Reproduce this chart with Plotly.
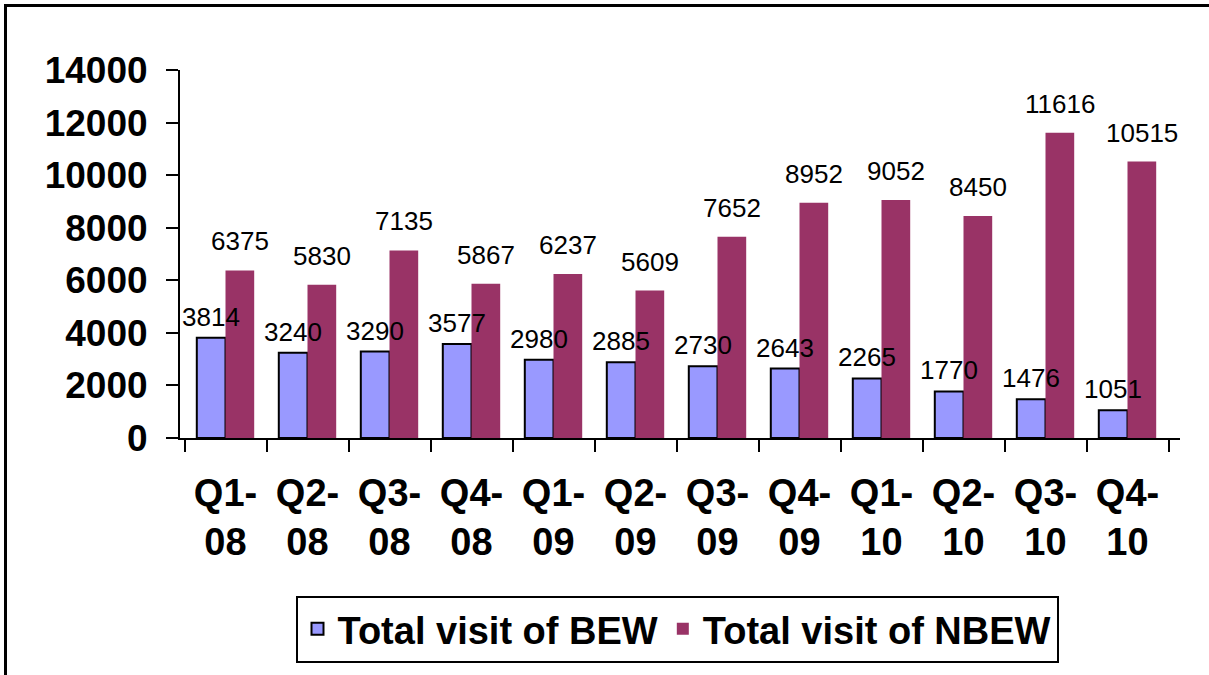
import plotly.graph_objects as go

quarters = ["Q1-<br>08", "Q2-<br>08", "Q3-<br>08", "Q4-<br>08",
            "Q1-<br>09", "Q2-<br>09", "Q3-<br>09", "Q4-<br>09",
            "Q1-<br>10", "Q2-<br>10", "Q3-<br>10", "Q4-<br>10"]
bew = [3814, 3240, 3290, 3577, 2980, 2885, 2730, 2643, 2265, 1770, 1476, 1051]
nbew = [6375, 5830, 7135, 5867, 6237, 5609, 7652, 8952, 9052, 8450, 11616, 10515]

fig = go.Figure()
fig.add_trace(go.Bar(x=quarters, y=bew, name="Total visit of BEW",
                     marker=dict(color="#9999FF", line=dict(color="black", width=2))))
fig.add_trace(go.Bar(x=quarters, y=nbew, name="Total visit of NBEW",
                     marker=dict(color="#993366", line=dict(width=0))))

# value labels above each bar
for q, b, n in zip(quarters, bew, nbew):
    fig.add_annotation(x=q, y=b, text=str(b), showarrow=False, yanchor="bottom",
                       xshift=-14.5, yshift=4, font=dict(size=26, color="black"))
    fig.add_annotation(x=q, y=n, text=str(n), showarrow=False, yanchor="bottom",
                       xshift=14.5, yshift=12, font=dict(size=26, color="black"))

# outer chart frame (left and top edges visible, rest runs off the page)
fig.add_shape(type="rect", xref="paper", yref="paper",
              x0=-0.1745, x1=1.2, y0=-0.8, y1=1.1753,
              line=dict(color="black", width=3), layer="above")

fig.update_layout(
    width=1209, height=675,
    margin=dict(l=180, r=29, t=70, b=237, autoexpand=False),
    plot_bgcolor="white", paper_bgcolor="white",
    font=dict(family="Arial, Liberation Sans, sans-serif", color="black"),
    barmode="group", bargap=0.3, bargroupgap=0,
    showlegend=True,
    legend=dict(orientation="h", x=0.497, xanchor="center", y=-0.428, yanchor="top",
                bordercolor="black", borderwidth=2,
                font=dict(size=38, family="Arial, Liberation Sans, sans-serif", weight="bold")),
)
fig.update_xaxes(showline=True, linecolor="black", linewidth=2, automargin=False,
                 ticks="outside", ticklen=12, tickwidth=2, tickcolor="black",
                 tickson="boundaries", ticklabelstandoff=20,
                 tickfont=dict(size=38, weight="bold"), tickangle=0)
fig.update_yaxes(range=[0, 14000], dtick=2000, tickformat="d", showgrid=False, zeroline=False,
                 showline=True, linecolor="black", linewidth=2, automargin=False,
                 ticks="outside", ticklen=12, tickwidth=2, tickcolor="black",
                 tickfont=dict(size=37, weight="bold"), ticklabelstandoff=11)

fig.write_html("out.html", config={"displayModeBar": False},
               post_script="document.body.style.margin='0';document.body.style.overflow='hidden';")
